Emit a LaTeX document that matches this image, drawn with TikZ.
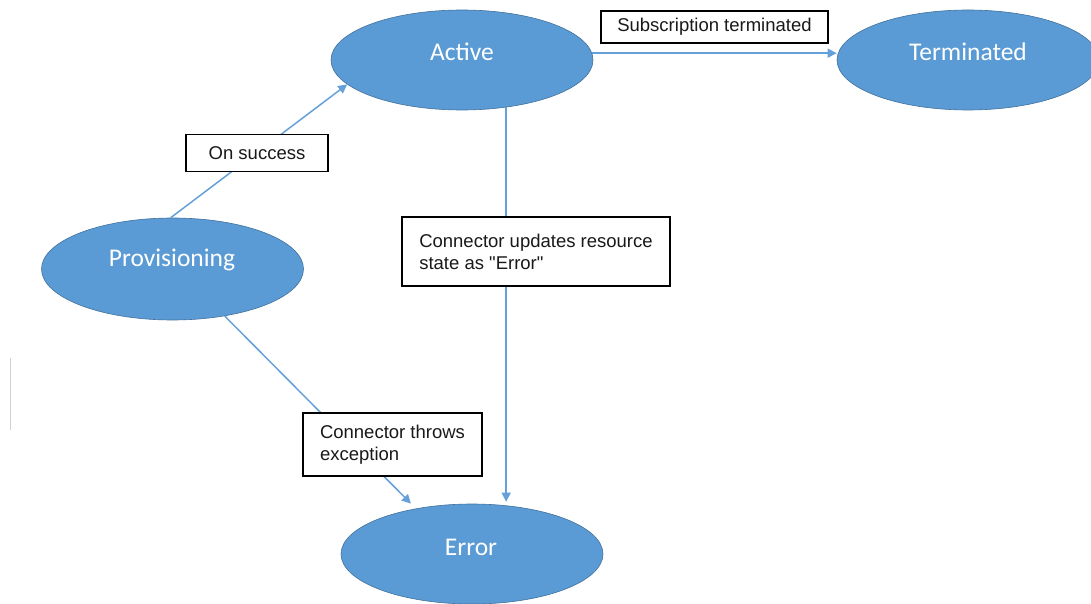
\documentclass[tikz,border=0pt]{standalone}
\usepackage{fontspec}
\setmainfont{Liberation Sans}[Ligatures=TeXOff]
\newfontfamily\calfont{Carlito}
\usetikzlibrary{shapes.geometric,arrows.meta}
\definecolor{stfill}{RGB}{91,155,213}
\definecolor{stedge}{RGB}{65,113,156}
\definecolor{linkc}{RGB}{100,160,218}
\tikzset{
  state/.style={ellipse, draw=stedge, line width=0.6pt, fill=stfill,
    minimum width=262pt, minimum height=100pt, inner sep=0pt},
  sttext/.style={text=white, font=\calfont\fontsize{25.5}{30}\selectfont, inner sep=0pt},
  tag/.style={draw=black, line width=1.3pt, fill=white, text=black!90,
    font=\fontsize{18.5}{22}\selectfont, align=left, inner sep=0pt},
  link/.style={draw=linkc, line width=1.5pt,
    -{Triangle[length=9pt,width=9pt]}},
}
\begin{document}
\begin{tikzpicture}[x=1pt,y=-1pt]
\useasboundingbox (0,0) rectangle (1091,604);
\begin{scope}
\clip (0,0) rectangle (1091,604);
% states
\node[state] (active) at (462,60) {};
\node[sttext] (activet) at (462,52) {Active};
\node[state] (term) at (968,60) {};
\node[sttext] (termt) at (968,52) {Terminated};
\node[state, minimum height=102pt] (prov) at (172.5,269) {};
\node[sttext] (provt) at (172,260) {Provisioning};
\node[state] (error) at (472,554) {};
\node[sttext] (errort) at (471,547) {Error};
% connectors
\draw[link] (prov.92) -- (active.192);
\draw[link] (active.3.5) -- (active.3.5 -| term.west);
\draw[link, shorten >=2pt] (active.313) -- (active.313 |- error.north);
\draw[link, shorten >=7pt] (prov.318) -- (error.141);
% labels
\node[tag, minimum width=227pt, minimum height=32pt] (lsub) at (714.5,27) {Subscription terminated};
\node[tag, minimum width=142pt, minimum height=37pt] (lsucc) at (257,153) {On success};
\node[tag, minimum width=268pt, minimum height=69pt] (lupd) at (536,251.5) {Connector updates resource\\state as "Error"};
\node[tag, minimum width=179pt, minimum height=63pt] (lthrow) at (392.5,444.5) {Connector throws\\exception};
% stray mark
\coordinate (m1) at (10,358);
\coordinate (m2) at (10,430);
\draw[black!18, line width=1pt] (m1) -- (m2);
\end{scope}
\end{tikzpicture}
\end{document}
